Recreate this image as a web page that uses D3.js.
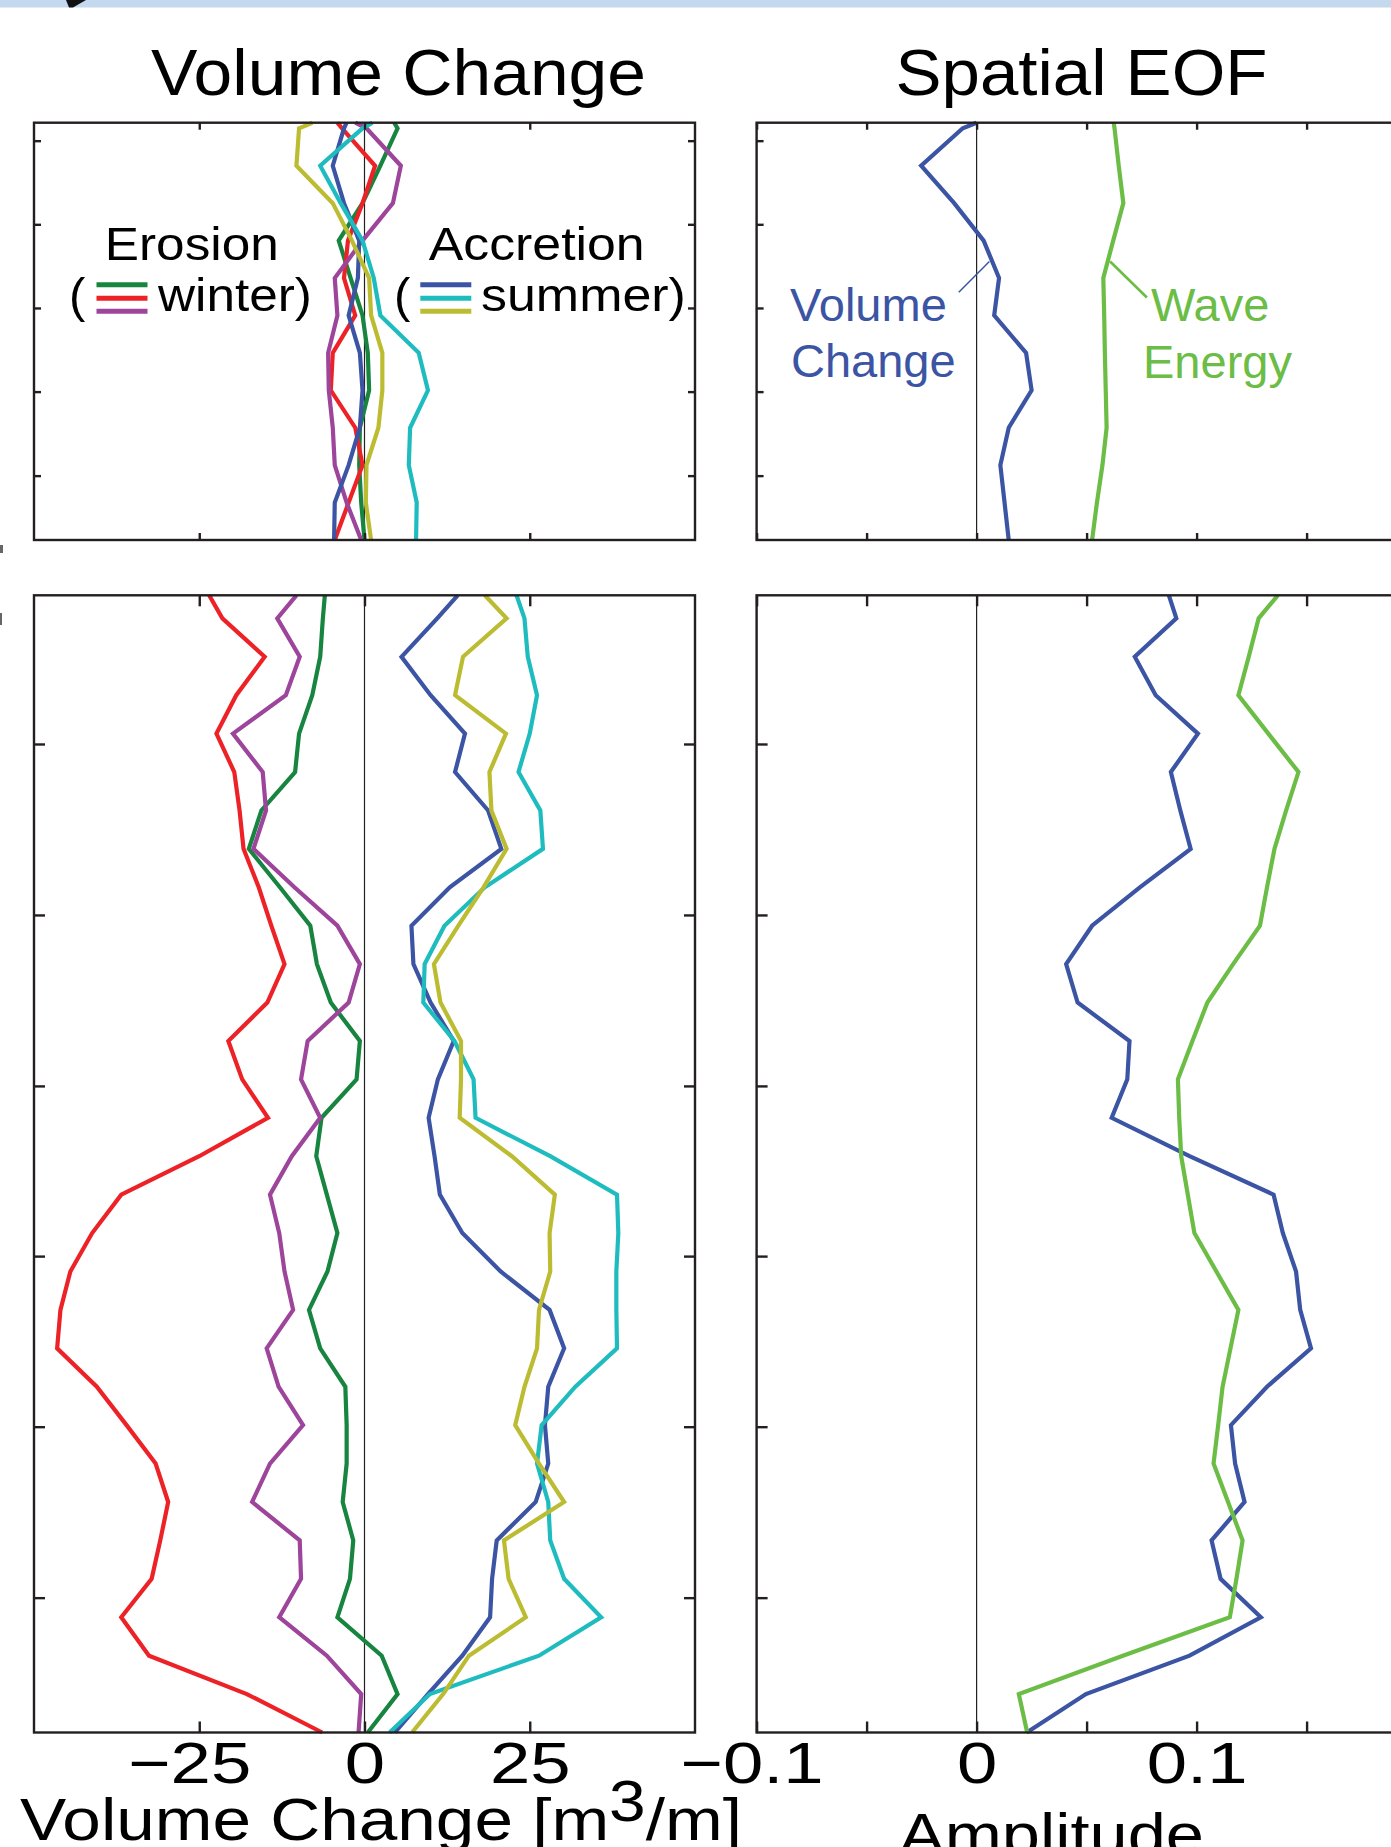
<!DOCTYPE html>
<html lang="en">
<head>
<meta charset="UTF-8">
<title>Volume Change and Spatial EOF</title>
<script src="https://d3js.org/d3.v7.min.js"></script>
<style>
  body { margin: 0; background: #fff; }
  text { font-family: "Liberation Sans", Arial, Helvetica, sans-serif; }
</style>
</head>
<body>
<script>
  // profile rows (alongshore index), first entry is the value at the top edge
  var rowsTop = [-0.15, 0, 1, 2, 3, 4, 5, 6, 7, 8, 9, 10, 11];
  var rowsBottom = [-0.6, 0, 1, 2, 3, 4, 5, 6, 7, 8, 9, 10, 11, 12, 13, 14, 15, 16, 17, 18, 19,
    20, 21, 22, 23, 24, 25, 26, 27, 28, 29];

  // volume change [m3/m], upper panel
  var topWinterGreen  = [4.5, 5.0, 2.4, -0.3, -3.9, -2.1, -0.3, 0.5, 0.7, -0.7, -0.8, -0.5, 0.0];
  var topWinterRed    = [-4.1, -3.4, 1.6, -0.3, -2.5, -3.1, -1.4, -4.8, -5.1, -1.4, -0.3, -2.4, -4.5];
  var topWinterPurple = [-1.4, 0.3, 5.5, 4.3, -0.3, -4.5, -4.1, -5.5, -5.4, -4.8, -4.5, -2.7, -0.5];
  var topSummerBlue   = [-2.7, -3.1, -4.8, -3.1, -0.8, -1.0, -2.4, -0.7, -0.3, -0.7, -2.4, -4.5, -4.6];
  var topSummerCyan   = [1.2, -0.3, -6.7, -3.6, -0.3, 1.4, 2.4, 8.2, 9.6, 6.9, 6.7, 7.9, 7.8];
  var topSummerOlive  = [-7.9, -9.9, -10.3, -4.8, -1.9, 0.7, 1.0, 2.7, 2.7, 2.1, 0.3, 0.2, 1.0];

  // volume change [m3/m], lower panel
  var botWinterGreen  = [-6.0, -6.3, -6.7, -7.9, -9.9, -10.5, -15.6, -17.5, -12.8, -8.2, -7.2, -5.1, -0.7,
    -1.2, -6.5, -7.3, -5.7, -4.1, -5.6, -8.4, -6.7, -2.9, -2.7, -2.7, -3.3, -1.7, -2.2, -4.1, 2.6, 5.0, 0.5];
  var botWinterRed    = [-23.5, -21.5, -15.1, -19.4, -22.4, -19.7, -18.9, -18.3, -16.0, -14.1, -12.1, -14.7,
    -20.6, -18.5, -14.6, -25.0, -36.8, -41.2, -44.5, -46.0, -46.5, -40.5, -36.0, -31.6, -29.7, -30.9, -32.2,
    -36.8, -32.6, -17.8, -6.4];
  var botWinterPurple = [-10.3, -13.2, -9.8, -11.9, -19.9, -15.4, -14.9, -16.8, -10.6, -4.1, -0.7, -2.4, -8.6,
    -9.6, -6.7, -11.0, -14.3, -12.9, -12.1, -10.8, -14.8, -13.0, -9.3, -14.3, -17.0, -9.8, -9.6, -12.9, -5.7,
    -0.5, -0.9];
  var botSummerBlue   = [14.1, 11.0, 5.6, 10.0, 15.2, 13.7, 18.7, 20.7, 12.9, 7.1, 7.4, 10.0, 13.5, 11.1, 9.7,
    10.6, 11.4, 14.8, 20.6, 28.0, 30.2, 27.8, 27.3, 27.8, 25.9, 20.0, 19.3, 19.0, 14.8, 9.6, 4.6];
  var botSummerCyan   = [23.0, 24.2, 24.7, 26.1, 25.0, 23.3, 26.6, 27.0, 18.2, 12.1, 9.1, 8.9, 13.6, 16.5, 16.8,
    28.1, 38.2, 38.4, 38.1, 38.1, 38.2, 31.9, 26.8, 26.1, 27.8, 28.1, 30.2, 35.8, 26.4, 9.9, 3.8];
  var botSummerOlive  = [18.2, 21.5, 14.9, 13.7, 21.4, 18.9, 19.2, 21.5, 18.0, 14.2, 10.5, 11.5, 14.6, 14.6, 14.4,
    22.3, 28.8, 28.0, 28.1, 26.4, 26.1, 24.2, 22.8, 26.4, 30.2, 21.1, 21.8, 24.4, 15.8, 11.9, 7.2];

  // spatial EOF amplitude
  var topEofVolume = [0, -0.0063, -0.0252, -0.0102, 0.0032, 0.0102, 0.008, 0.0225, 0.025, 0.0146, 0.0108, 0.0127, 0.0146];
  var topEofWave   = [0.0623, 0.0627, 0.0646, 0.0667, 0.0621, 0.0576, 0.058, 0.0583, 0.0587, 0.0591, 0.0572, 0.0547, 0.0525];
  var botEofVolume = [0.0874, 0.0908, 0.0719, 0.0814, 0.1006, 0.0883, 0.0926, 0.0973, 0.0742, 0.0525, 0.0407,
    0.0459, 0.0695, 0.0685, 0.0614, 0.0968, 0.1350, 0.1392, 0.1452, 0.1471, 0.1520, 0.1320, 0.1156, 0.1175,
    0.1218, 0.1068, 0.1109, 0.1292, 0.0968, 0.0497, 0.0228];
  var botEofWave   = [0.1369, 0.1282, 0.1237, 0.1190, 0.1326, 0.1463, 0.1407, 0.1354, 0.1320, 0.1288, 0.1166,
    0.1049, 0.0981, 0.0915, 0.0921, 0.0930, 0.0960, 0.0990, 0.1090, 0.1190, 0.1154, 0.1118, 0.1098, 0.1077,
    0.1143, 0.1209, 0.1181, 0.1151, 0.0665, 0.0192, 0.0230];

  // ticks
  var yTicksTop = [0.33, 2.565, 4.80, 7.035, 9.28];
  var yTicksBottom = [3.27, 7.72, 12.17, 16.60, 21.04, 25.49];
  var xTicksLeft = [-25, 0, 25];
  var xTicksRight = [-0.1, -0.05, 0, 0.05, 0.1, 0.15, 0.2];
  var xLabelsRight = [-0.1, 0, 0.1];

  var colors = {
    green: "#17843f", red: "#ec2227", purple: "#9d449b",
    blue: "#3b54a4", cyan: "#1ebcbf", olive: "#bcbc32", wave: "#6bbd45"
  };
  var ink = "#231f20";

  var svg = d3.select("body").append("svg")
    .attr("width", 1391)
    .attr("height", 1847);

  // strip of the page header above the figure
  svg.append("rect").attr("x", 0).attr("y", 0).attr("width", 1391).attr("height", 7.5).attr("fill", "#c5d9ee");
  svg.append("path").attr("d", "M66,0L86,0L73,7.5L69,7.5Z").attr("fill", "#111");
  svg.append("rect").attr("x", 0).attr("y", 545).attr("width", 3).attr("height", 8).attr("fill", "#666");
  svg.append("rect").attr("x", 0).attr("y", 613).attr("width", 2).attr("height", 12).attr("fill", "#666");

  function stretch(sel, target) {
    var bb = sel.node().getBBox();
    var ax = +sel.attr("x") || 0;
    var k = target / bb.width;
    sel.attr("transform", `translate(${ax},0) scale(${k},1) translate(${-ax},0)`);
  }

  function drawPanel(p) {
    var x = d3.scaleLinear().domain(p.xdom).range(p.xr);
    var y = d3.scaleLinear().domain(p.ydom).range(p.yr);
    var g = svg.append("g");

    // zero line
    g.append("line")
      .attr("x1", x(0)).attr("x2", x(0))
      .attr("y1", p.yr[0]).attr("y2", p.yr[1])
      .attr("stroke", "#222").attr("stroke-width", 1.2);

    // lines
    var line = d3.line().x(d => x(d[1])).y(d => y(d[0]));
    p.series.forEach(function(s) {
      g.append("path")
        .datum(d3.zip(p.rows, s.values))
        .attr("fill", "none")
        .attr("stroke", s.color)
        .attr("stroke-width", 4.2)
        .attr("stroke-linejoin", "miter")
        .attr("d", line);
    });

    // ticks on all sides, pointing inwards
    var axes = [
      [d3.axisTop(x).tickValues(p.xticks), `translate(0,${p.yr[0]})`],
      [d3.axisLeft(y).tickValues(p.yticks), `translate(${p.xr[0]},0)`],
      [d3.axisRight(y).tickValues(p.yticks), `translate(${p.xr[1]},0)`]
    ];
    axes.forEach(function(a) {
      var ag = g.append("g").attr("transform", a[1])
        .call(a[0].tickSize(-p.tick).tickFormat(""));
      ag.select(".domain").remove();
      ag.selectAll("line").attr("stroke", ink).attr("stroke-width", 2.4);
    });

    var bottom = d3.axisBottom(x).tickValues(p.xticks).tickSizeInner(-p.tick).tickSizeOuter(0).tickPadding(9);
    if (p.labels) {
      bottom.tickFormat(d => p.labels.indexOf(d) >= 0 ? d3.format("")(d) : "");
    } else {
      bottom.tickFormat("");
    }
    var bg = g.append("g").attr("transform", `translate(0,${p.yr[1]})`).call(bottom);
    bg.select(".domain").remove();
    bg.selectAll("line").attr("stroke", ink).attr("stroke-width", 2.4);
    bg.selectAll("text")
      .attr("fill", "#000")
      .style("font-size", "58px")
      .attr("dx", d => d < 0 ? p.negShift / 1.25 : 0)
      .attr("transform", "scale(1.25,1)");

    // box
    g.append("rect")
      .attr("x", p.xr[0]).attr("y", p.yr[0])
      .attr("width", p.xr[1] - p.xr[0]).attr("height", p.yr[1] - p.yr[0])
      .attr("fill", "none").attr("stroke", ink).attr("stroke-width", 2.4);

    return { x: x, y: y };
  }

  var leftX = [34, 695], rightX = [756.6, 1416.6];
  var topY = [122.7, 540], botY = [595.3, 1732.5];

  drawPanel({
    xr: leftX, yr: topY, xdom: [-50, 50], ydom: [-0.15, 11], tick: 7,
    xticks: xTicksLeft, yticks: yTicksTop, rows: rowsTop,
    series: [
      { values: topWinterGreen, color: colors.green },
      { values: topWinterRed, color: colors.red },
      { values: topWinterPurple, color: colors.purple },
      { values: topSummerBlue, color: colors.blue },
      { values: topSummerCyan, color: colors.cyan },
      { values: topSummerOlive, color: colors.olive }
    ]
  });

  var tr = drawPanel({
    xr: rightX, yr: topY, xdom: [-0.1, 0.2], ydom: [-0.15, 11], tick: 7,
    xticks: xTicksRight, yticks: yTicksTop, rows: rowsTop,
    series: [
      { values: topEofVolume, color: colors.blue },
      { values: topEofWave, color: colors.wave }
    ]
  });

  drawPanel({
    xr: leftX, yr: botY, xdom: [-50, 50], ydom: [-0.6, 29], tick: 11,
    xticks: xTicksLeft, yticks: yTicksBottom, rows: rowsBottom, labels: xTicksLeft, negShift: -10,
    series: [
      { values: botWinterGreen, color: colors.green },
      { values: botWinterRed, color: colors.red },
      { values: botWinterPurple, color: colors.purple },
      { values: botSummerBlue, color: colors.blue },
      { values: botSummerCyan, color: colors.cyan },
      { values: botSummerOlive, color: colors.olive }
    ]
  });

  drawPanel({
    xr: rightX, yr: botY, xdom: [-0.1, 0.2], ydom: [-0.6, 29], tick: 11,
    xticks: xTicksRight, yticks: yTicksBottom, rows: rowsBottom, labels: xLabelsRight, negShift: -5,
    series: [
      { values: botEofVolume, color: colors.blue },
      { values: botEofWave, color: colors.wave }
    ]
  });

  // titles
  var t1 = svg.append("text").attr("x", 398.5).attr("y", 95).attr("text-anchor", "middle")
    .style("font-size", "64px").text("Volume Change");
  stretch(t1, 495);
  var t2 = svg.append("text").attr("x", 1081.5).attr("y", 95).attr("text-anchor", "middle")
    .style("font-size", "64px").text("Spatial EOF");
  stretch(t2, 372);

  // axis labels
  var xl = svg.append("text").attr("x", 20).attr("y", 1840).style("font-size", "60px");
  xl.append("tspan").text("Volume Change [m");
  xl.append("tspan").attr("dy", -19).style("font-size", "57px").text("3");
  xl.append("tspan").attr("dy", 19).text("/m]");
  stretch(xl, 722);
  var al = svg.append("text").attr("x", 1051.5).attr("y", 1855).attr("text-anchor", "middle")
    .style("font-size", "60px").text("Amplitude");
  stretch(al, 305);

  // legend in the volume change panel
  function legend(word, cx, open, barX, closeX, closeText, cols, wWord, wClose) {
    var a = svg.append("text").attr("x", cx).attr("y", 260.5).attr("text-anchor", "middle")
      .style("font-size", "47px").text(word);
    stretch(a, wWord);
    svg.append("text").attr("x", open).attr("y", 312).style("font-size", "49px").text("(");
    [284.7, 298.3, 311.3].forEach(function(yy, i) {
      svg.append("line").attr("x1", barX).attr("x2", barX + 51)
        .attr("y1", yy).attr("y2", yy)
        .attr("stroke", cols[i]).attr("stroke-width", 4.9);
    });
    var b = svg.append("text").attr("x", closeX).attr("y", 311)
      .style("font-size", "47px").text(closeText);
    stretch(b, wClose);
  }
  legend("Erosion", 191.8, 69, 96.5, 158, "winter)", [colors.green, colors.red, colors.purple], 174, 155);
  legend("Accretion", 536.7, 394, 420.3, 481, "summer)", [colors.blue, colors.cyan, colors.olive], 216, 205);

  // labels in the EOF panel
  function label(txt, xx, yy, col) {
    svg.append("text").attr("x", xx).attr("y", yy).attr("fill", col)
      .style("font-size", "47px").text(txt);
  }
  label("Volume", 790, 320.5, colors.blue);
  label("Change", 791, 377, colors.blue);
  label("Wave", 1151, 320.5, colors.wave);
  label("Energy", 1143, 377.5, colors.wave);

  svg.append("line")
    .attr("x1", tr.x(0.0058)).attr("y1", tr.y(3.56))
    .attr("x2", tr.x(-0.0081)).attr("y2", tr.y(4.38))
    .attr("stroke", colors.blue).attr("stroke-width", 1.5);
  svg.append("line")
    .attr("x1", tr.x(0.0607)).attr("y1", tr.y(3.56))
    .attr("x2", tr.x(0.0774)).attr("y2", tr.y(4.52))
    .attr("stroke", colors.wave).attr("stroke-width", 2.6);
</script>
</body>
</html>
